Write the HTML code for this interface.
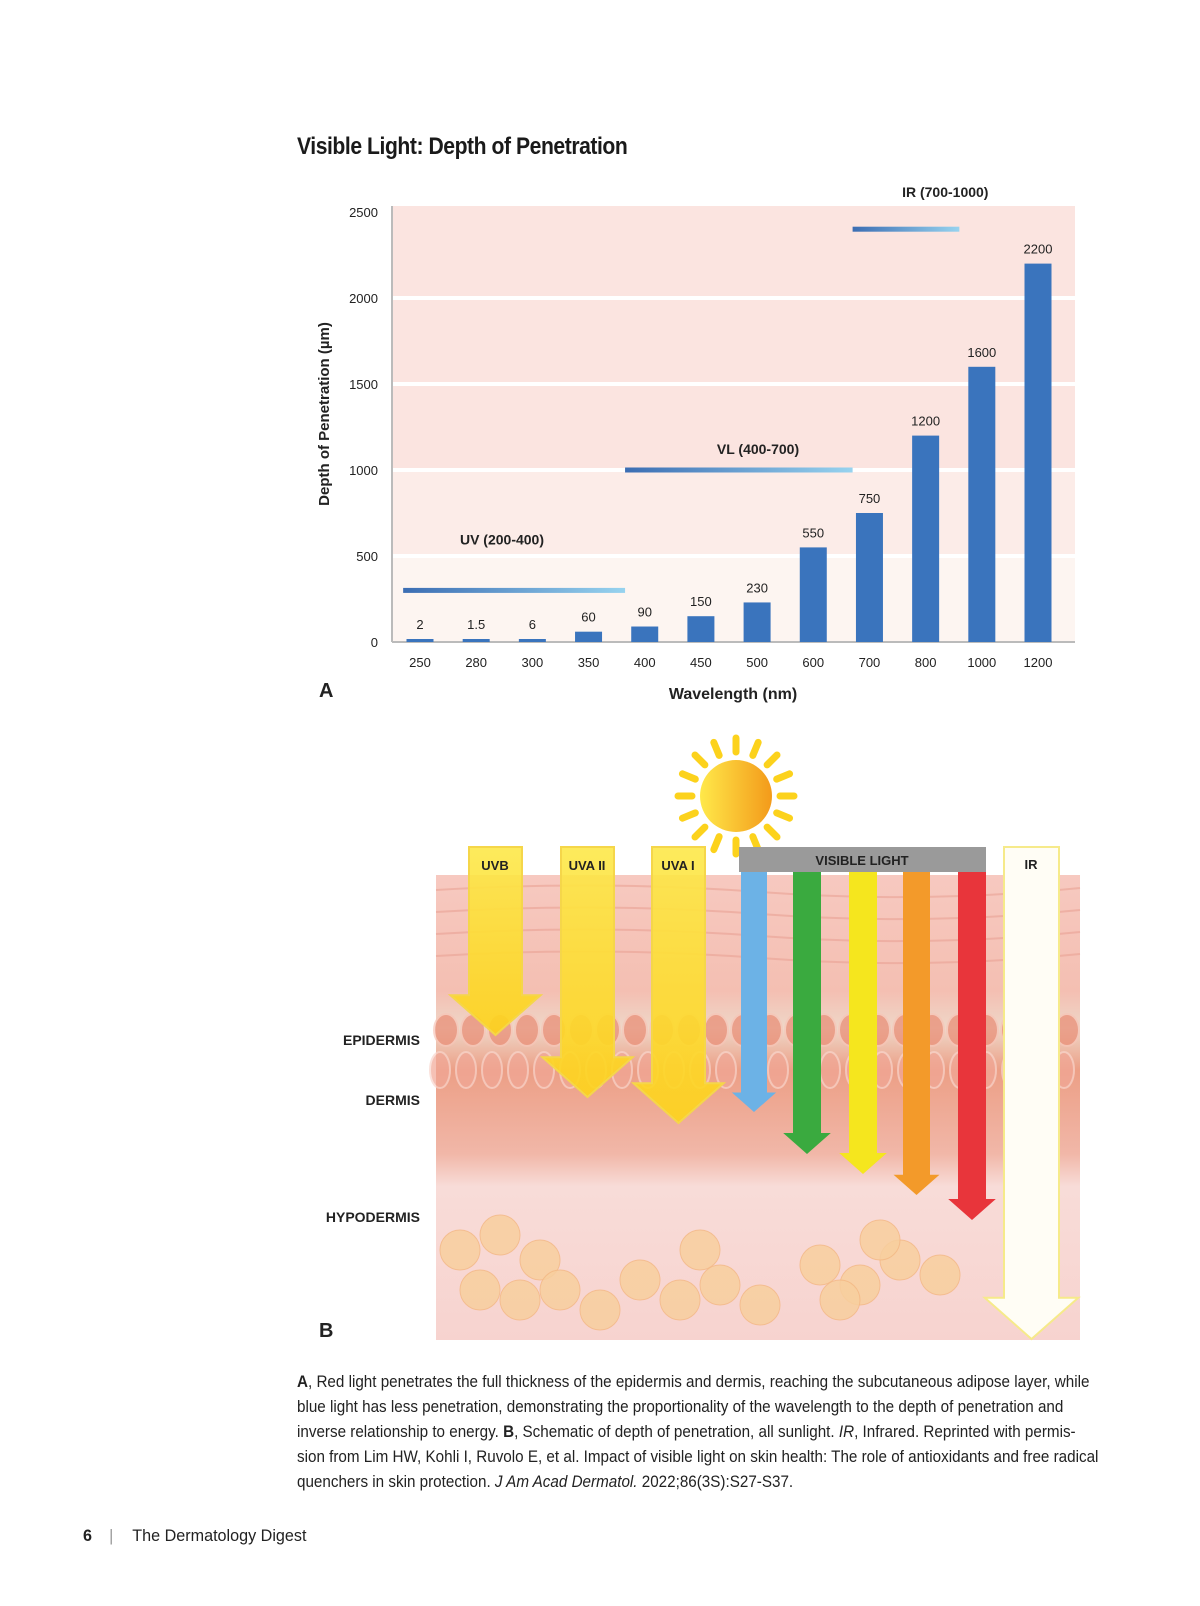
<!DOCTYPE html>
<html><head><meta charset="utf-8"><style>
html,body{margin:0;background:#fff;overflow:hidden;}
#page{position:relative;width:1200px;height:1606px;overflow:hidden;background:#fff;font-family:"Liberation Sans",sans-serif;}
#title{position:absolute;left:297px;top:133px;font-size:24px;font-weight:bold;color:#1a1a1a;letter-spacing:-0.5px;transform:scaleX(0.88);transform-origin:left;white-space:nowrap;}
#caption{position:absolute;left:297px;top:1369px;width:820px;height:130px;overflow:visible;font-size:17px;line-height:25px;color:#222;}
#caption p{margin:0;white-space:nowrap;transform:scaleX(0.895);transform-origin:left;width:800px;}
#footer{position:absolute;left:83px;top:1526px;font-size:17px;color:#222;white-space:nowrap;transform:scaleX(0.95);transform-origin:left;}
</style></head><body>
<div id="page">
<div id="title">Visible Light: Depth of Penetration</div>
<svg id="chart" width="1200" height="720" style="position:absolute;left:0;top:0" font-family="Liberation Sans, sans-serif">
<defs>
<linearGradient id="rg" x1="0" x2="1" y1="0" y2="0"><stop offset="0" stop-color="#3b6db3"/><stop offset="1" stop-color="#97d3ef"/></linearGradient>
</defs>
<g id="plot"></g>
</svg>
<svg id="skin" width="1200" height="640" style="position:absolute;left:0;top:720px" font-family="Liberation Sans, sans-serif">
<defs>
<linearGradient id="sun" x1="0" x2="1"><stop offset="0" stop-color="#ffe94a"/><stop offset="1" stop-color="#f39a1a"/></linearGradient>
<linearGradient id="skinbg" x1="0" y1="0" x2="0" y2="1">
<stop offset="0" stop-color="#f7c9c0"/><stop offset="0.25" stop-color="#f4bfb2"/><stop offset="0.33" stop-color="#eed7c8"/><stop offset="0.42" stop-color="#ec9f86"/><stop offset="0.6" stop-color="#f1b7a8"/><stop offset="0.67" stop-color="#f8dcd8"/><stop offset="1" stop-color="#f7d3cf"/></linearGradient>
<linearGradient id="yel" x1="0" y1="0" x2="0" y2="1"><stop offset="0" stop-color="#fde84a" stop-opacity="0.9"/><stop offset="1" stop-color="#fdd31a" stop-opacity="0.9"/></linearGradient>
</defs>
<g id="skin-g"></g>
</svg>
<div id="caption">
<p><b>A</b>, Red light penetrates the full thickness of the epidermis and dermis, reaching the subcutaneous adipose layer, while</p>
<p>blue light has less penetration, demonstrating the proportionality of the wavelength to the depth of penetration and</p>
<p>inverse relationship to energy. <b>B</b>, Schematic of depth of penetration, all sunlight. <i>IR</i>, Infrared. Reprinted with permis-</p>
<p>sion from Lim HW, Kohli I, Ruvolo E, et al. Impact of visible light on skin health: The role of antioxidants and free radical</p>
<p>quenchers in skin protection. <i>J Am Acad Dermatol.</i> 2022;86(3S):S27-S37.</p>
</div>
<div id="footer"><b>6</b><span style="color:#999;margin:0 20px 0 18px">|</span>The Dermatology Digest</div>
</div>
<script>
const categories=["250","280","300","350","400","450","500","600","700","800","1000","1200"];
const depthValues=[2,1.5,6,60,90,150,230,550,750,1200,1600,2200];
const valueLabels=["2","1.5","6","60","90","150","230","550","750","1200","1600","2200"];
const yTicks=[0,500,1000,1500,2000,2500];
const rangeNames=["UV (200-400)","VL (400-700)","IR (700-1000)"];
const rangeStartIdx=[-0.3,3.65,7.7];
const rangeEndIdx=[3.65,7.7,9.6];
const rangeLevel=[300,1000,2400];

const NS="http://www.w3.org/2000/svg";
function mk(parent,tag,attrs,text){const e=document.createElementNS(NS,tag);for(const k in attrs)e.setAttribute(k,attrs[k]);if(text!==undefined)e.textContent=text;parent.appendChild(e);return e;}
const X0=392,X1=1075,Y0=642,YTOP=212;
const yS=v=>Y0-(v/2500)*(Y0-YTOP);
const x0c=420,step=(1038-420)/11;
const xS=i=>x0c+i*step;
const g=document.getElementById('plot');
let r;
r=mk(g,'rect',{x:X0,y:206,width:X1-X0,height:Y0-206,fill:'#fbe4e0'});


r=mk(g,'rect',{x:X0,y:yS(500),width:X1-X0,height:Y0-yS(500),fill:'#fdf5f1'});


r=mk(g,'rect',{x:X0,y:yS(1000),width:X1-X0,height:yS(500)-yS(1000),fill:'#fcece8'});


yTicks.forEach(t=>{
 if(t>0&&t<2500){const l=mk(g,'line',{x1:X0,x2:X1,y1:yS(t),y2:yS(t),stroke:'#fff','stroke-width':4});
 
 }
 const tx=mk(g,'text',{x:378,y:yS(t)+5,'text-anchor':'end','font-size':13,fill:'#222'},String(t));
 
 
});
let ax=mk(g,'line',{x1:X0,x2:X0,y1:206,y2:Y0,stroke:'#bbb','stroke-width':2});


ax=mk(g,'line',{x1:X0,x2:X1,y1:Y0,y2:Y0,stroke:'#bbb','stroke-width':2});


depthValues.forEach((v,i)=>{
 const h=Math.max(Y0-yS(v),3);
 const b=mk(g,'rect',{x:xS(i)-13.5,y:Y0-h,width:27,height:h,fill:'#3a74bd'});
 
 
 const vl=mk(g,'text',{x:xS(i),y:Y0-h-10,'text-anchor':'middle','font-size':13,fill:'#222'},valueLabels[i]);
 
 
 const xl=mk(g,'text',{x:xS(i),y:667,'text-anchor':'middle','font-size':13,fill:'#222'},categories[i]);
 
 
});
rangeNames.forEach((n,i)=>{
 const xa=xS(rangeStartIdx[i]),xb=xS(rangeEndIdx[i]);
 const rb=mk(g,'rect',{x:xa,y:yS(rangeLevel[i])-2.5,width:xb-xa,height:5,fill:'url(#rg)'});
 
 
 const ly=i==2?197:yS(rangeLevel[i])-(i==0?46:16);
 const lx=i==2?xS(9.35):(i==0?502:758);
 const rl=mk(g,'text',{x:lx,y:ly,'text-anchor':'middle','font-size':14,'font-weight':'bold',fill:'#222'},n);
 
 
});
let t=mk(g,'text',{x:0,y:0,'text-anchor':'middle','font-size':15,'font-weight':'bold',fill:'#222',transform:'translate(329,414) rotate(-90)'},'Depth of Penetration (µm)');


t=mk(g,'text',{x:733,y:699,'text-anchor':'middle','font-size':16,'font-weight':'bold',fill:'#222'},'Wavelength (nm)');


t=mk(g,'text',{x:319,y:697,'font-size':20,'font-weight':'bold',fill:'#222'},'A');



const s=document.getElementById('skin-g');
const O=720;
r=mk(s,'rect',{x:436,y:875-O,width:644,height:465,fill:'url(#skinbg)'});


for(let k=0;k<4;k++){const st=mk(s,'path',{d:`M436 ${890+k*22-O} Q 600 ${880+k*22-O} 760 ${892+k*22-O} T 1080 ${888+k*22-O}`,stroke:'#eaa294','stroke-width':2,fill:'none',opacity:0.6});

}
for(let k=0;k<24;k++){const c=mk(s,'ellipse',{cx:446+k*27,cy:1030-O,rx:12,ry:16,fill:'#e98b73',stroke:'#f7c6b8','stroke-width':2,opacity:0.7});

}
for(let k=0;k<25;k++){const c=mk(s,'ellipse',{cx:440+k*26,cy:1070-O,rx:10,ry:18,fill:'#f1a796',stroke:'#f9d5cc','stroke-width':2,opacity:0.7});

}
let p=mk(s,'path',{d:'M436 1186 C 600 1150, 800 1210, 960 1230 S 1060 1190 1080 1190',stroke:'#d9796a','stroke-width':12,fill:'none',opacity:0.8});


p=mk(s,'path',{d:'M436 1192 C 550 1180, 600 1250, 700 1265 S 900 1240 1000 1205 L1080 1215',stroke:'#6aa3cf','stroke-width':10,fill:'none',opacity:0.85});


const fat=[[460,1250],[500,1235],[540,1260],[480,1290],[520,1300],[560,1290],[640,1280],[680,1300],[720,1285],[700,1250],[820,1265],[860,1285],[900,1260],[880,1240],[940,1275],[840,1300],[760,1305],[600,1310]];
fat.forEach(f=>{const c=mk(s,'circle',{cx:f[0],cy:f[1]-O,r:20,fill:'#f8cf9e',stroke:'#f4b985','stroke-width':1,opacity:0.85});

});
const sg=mk(s,'g',{});


for(let k=0;k<16;k++){const a=k*Math.PI/8;mk(sg,'line',{x1:736+Math.cos(a)*44,y1:796-O+Math.sin(a)*44,x2:736+Math.cos(a)*58,y2:796-O+Math.sin(a)*58,stroke:'#fcd21c','stroke-width':7,'stroke-linecap':'round'});}
mk(sg,'circle',{cx:736,cy:796-O,r:36,fill:'url(#sun)'});
function arrow(name,x1,x2,top,tip,fill,stroke){
 const w=x2-x1,hw=w*0.35,hh=w*0.75;
 const d=`M${x1} ${top-O} L${x2} ${top-O} L${x2} ${tip-hh-O} L${x2+hw} ${tip-hh-O} L${(x1+x2)/2} ${tip-O} L${x1-hw} ${tip-hh-O} L${x1} ${tip-hh-O} Z`;
 const a=mk(s,'path',{d:d,fill:fill,stroke:stroke||'none','stroke-width':2});
 
 
}
arrow('uvb-arrow',469,522,847,1035,'url(#yel)','#f5d64a');
arrow('uva2-arrow',561,614,847,1097,'url(#yel)','#f5d64a');
arrow('uva1-arrow',652,705,847,1123,'url(#yel)','#f5d64a');
arrow('blue-arrow',741,767,872,1112,'#6cb2e6');
arrow('green-arrow',793,821,872,1154,'#3aaa3f');
arrow('yellow-arrow',849,877,872,1174,'#f5e61e');
arrow('orange-arrow',903,930,872,1195,'#f39a2a');
arrow('red-arrow',958,986,872,1220,'#e8353b');
arrow('ir-arrow',1004,1059,847,1339,'#fffdf5','#f6ea8a');
r=mk(s,'rect',{x:739,y:847-O,width:247,height:25,fill:'#9a9a9a'});


const labs=[['UVB',495,870],['UVA II',587,870],['UVA I',678,870],['VISIBLE LIGHT',862,865],['IR',1031,869]];
labs.forEach(l=>{const e=mk(s,'text',{x:l[1],y:l[2]-O,'text-anchor':'middle','font-size':13,'font-weight':'bold',fill:'#222'},l[0]);

});
const lay=[['EPIDERMIS',1045],['DERMIS',1105],['HYPODERMIS',1222]];
lay.forEach(l=>{const e=mk(s,'text',{x:420,y:l[1]-O,'text-anchor':'end','font-size':14,'font-weight':'bold',fill:'#222'},l[0]);

});
t=mk(s,'text',{x:319,y:1337-O,'font-size':20,'font-weight':'bold',fill:'#222'},'B');


</script>
</body></html>
